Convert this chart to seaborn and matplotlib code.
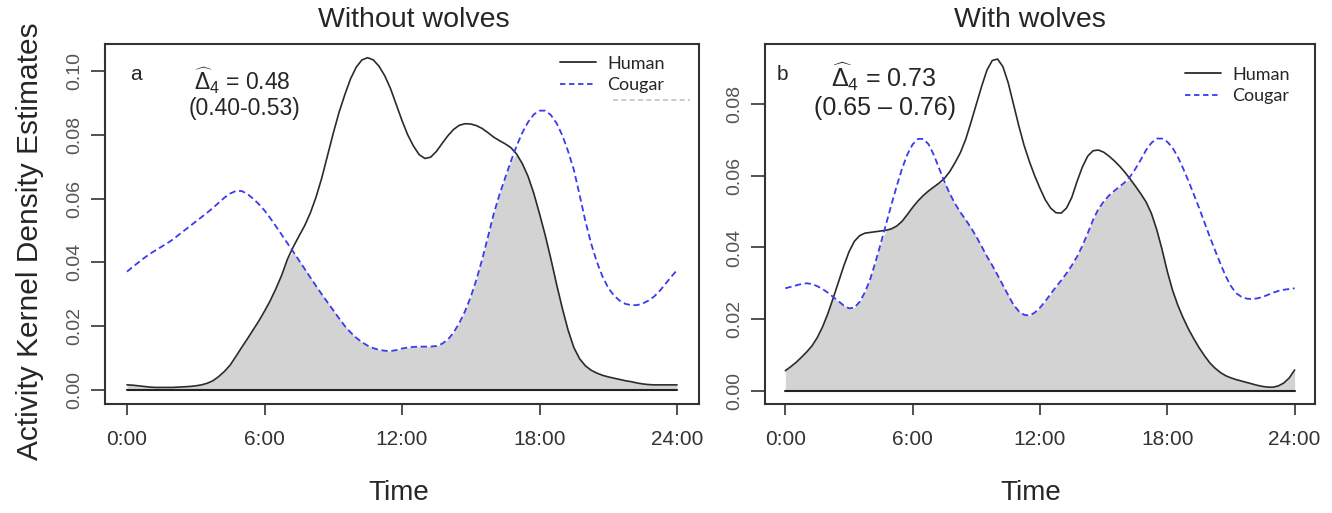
import numpy as np
import matplotlib
matplotlib.use("Agg")
import matplotlib.pyplot as plt
import seaborn as sns
from matplotlib.lines import Line2D

# ---------------- data ----------------
hours = np.arange(0, 24.001, 0.25)

human_without = [
    0.0016, 0.0015, 0.0013, 0.0011, 0.0009, 0.0008, 0.0008, 0.0008,
    0.0008, 0.0009, 0.0010, 0.0011, 0.0013, 0.0016, 0.0021, 0.0029,
    0.0042, 0.0058, 0.0078, 0.0105, 0.0133, 0.0160, 0.0188, 0.0216,
    0.0247, 0.0280, 0.0318, 0.0360, 0.0410, 0.0448, 0.0482, 0.0515,
    0.0555, 0.0605, 0.0665, 0.0735, 0.0805, 0.0870, 0.0925, 0.0975,
    0.1012, 0.1035, 0.1042, 0.1035, 0.1015, 0.0985, 0.0945, 0.0895,
    0.0845, 0.0800, 0.0765, 0.0738, 0.0726, 0.0730, 0.0748, 0.0773,
    0.0797, 0.0817, 0.0830, 0.0835, 0.0834, 0.0829, 0.0820, 0.0807,
    0.0793, 0.0782, 0.0772, 0.0760, 0.0740, 0.0710, 0.0670, 0.0617,
    0.0553, 0.0485, 0.0410, 0.0330, 0.0255, 0.0187, 0.0133, 0.0098,
    0.0076, 0.0062, 0.0053, 0.0046, 0.0041, 0.0037, 0.0033, 0.0029,
    0.0026, 0.0022, 0.0019, 0.0017, 0.0016, 0.0016, 0.0016, 0.0016,
    0.0016]
cougar_without = [
    0.0371, 0.0386, 0.0400, 0.0414, 0.0427, 0.0438, 0.0449, 0.0460,
    0.0472, 0.0486, 0.0500, 0.0514, 0.0528, 0.0542, 0.0556, 0.0571,
    0.0587, 0.0603, 0.0616, 0.0624, 0.0624, 0.0615, 0.0600, 0.0583,
    0.0563, 0.0539, 0.0513, 0.0487, 0.0460, 0.0434, 0.0407, 0.0380,
    0.0353, 0.0326, 0.0300, 0.0275, 0.0250, 0.0225, 0.0201, 0.0181,
    0.0164, 0.0150, 0.0139, 0.0131, 0.0126, 0.0123, 0.0122, 0.0125,
    0.0130, 0.0133, 0.0135, 0.0136, 0.0136, 0.0136, 0.0138, 0.0145,
    0.0158, 0.0180, 0.0210, 0.0247, 0.0292, 0.0347, 0.0410, 0.0480,
    0.0552, 0.0612, 0.0665, 0.0717, 0.0765, 0.0807, 0.0840, 0.0864,
    0.0876, 0.0876, 0.0862, 0.0836, 0.0798, 0.0748, 0.0690, 0.0612,
    0.0530, 0.0460, 0.0402, 0.0356, 0.0320, 0.0296, 0.0280, 0.0270,
    0.0266, 0.0266, 0.0271, 0.0280, 0.0293, 0.0311, 0.0333, 0.0355,
    0.0376]
human_with = [
    0.0056, 0.0067, 0.0079, 0.0093, 0.0108, 0.0125, 0.0148, 0.0178,
    0.0215, 0.0258, 0.0303, 0.0348, 0.0388, 0.0417, 0.0433, 0.0440,
    0.0442, 0.0444, 0.0446, 0.0448, 0.0452, 0.0460, 0.0473, 0.0492,
    0.0512, 0.0530, 0.0545, 0.0558, 0.0569, 0.0580, 0.0593, 0.0612,
    0.0637, 0.0665, 0.0702, 0.0750, 0.0800, 0.0850, 0.0895, 0.0922,
    0.0926, 0.0905, 0.0860, 0.0800, 0.0740, 0.0685, 0.0640, 0.0600,
    0.0565, 0.0533, 0.0510, 0.0497, 0.0496, 0.0510, 0.0540, 0.0585,
    0.0625, 0.0655, 0.0670, 0.0672, 0.0666, 0.0655, 0.0642, 0.0627,
    0.0610, 0.0591, 0.0571, 0.0550, 0.0527, 0.0495, 0.0450, 0.0395,
    0.0333, 0.0280, 0.0238, 0.0203, 0.0172, 0.0145, 0.0120, 0.0098,
    0.0078, 0.0063, 0.0051, 0.0042, 0.0036, 0.0031, 0.0027, 0.0023,
    0.0019, 0.0015, 0.0012, 0.0010, 0.0010, 0.0014, 0.0022, 0.0036,
    0.0058]
cougar_with = [
    0.0286, 0.0290, 0.0294, 0.0298, 0.0300, 0.0298, 0.0292, 0.0284,
    0.0274, 0.0262, 0.0250, 0.0238, 0.0230, 0.0232, 0.0248, 0.0275,
    0.0312, 0.0360, 0.0412, 0.0466, 0.0520, 0.0572, 0.0620, 0.0660,
    0.0688, 0.0703, 0.0703, 0.0688, 0.0658, 0.0620, 0.0583, 0.0550,
    0.0522, 0.0498, 0.0477, 0.0455, 0.0430, 0.0403, 0.0375, 0.0350,
    0.0323, 0.0295, 0.0267, 0.0240, 0.0222, 0.0212, 0.0210, 0.0218,
    0.0232, 0.0250, 0.0270, 0.0290, 0.0308, 0.0328, 0.0350, 0.0375,
    0.0405, 0.0440, 0.0477, 0.0507, 0.0528, 0.0545, 0.0558, 0.0570,
    0.0582, 0.0598, 0.0620, 0.0645, 0.0672, 0.0692, 0.0704, 0.0704,
    0.0695, 0.0678, 0.0652, 0.0620, 0.0585, 0.0548, 0.0510, 0.0470,
    0.0430, 0.0392, 0.0355, 0.0320, 0.0292, 0.0272, 0.0262, 0.0257,
    0.0256, 0.0258, 0.0262, 0.0268, 0.0274, 0.0279, 0.0282, 0.0284,
    0.0286]

x_ticks = [0, 6, 12, 18, 24]
x_ticklabels = ["0:00", "6:00", "12:00", "18:00", "24:00"]
y_ticks_left = [0.00, 0.02, 0.04, 0.06, 0.08, 0.10]
y_ticks_right = [0.00, 0.02, 0.04, 0.06, 0.08]
titles = ["Without wolves", "With wolves"]
panel_letters = ["a", "b"]
overlap_text = [r"$\widehat{\mathrm{\Delta}}_4$ = 0.48", r"$\widehat{\mathrm{\Delta}}_4$ = 0.73"]
ci_text = ["(0.40-0.53)", "(0.65 \u2013 0.76)"]

# ---------------- style ----------------
sns.set_style("ticks")
plt.rcParams["font.family"] = ["Liberation Sans", "DejaVu Sans"]
plt.rcParams["mathtext.fontset"] = "custom"
plt.rcParams["mathtext.rm"] = "Liberation Sans"
plt.rcParams["mathtext.it"] = "Liberation Sans:italic"

HUMAN_C = "#2b2b2b"
COUGAR_C = "#3a3aee"
FILL_C = "#d3d3d3"
TICK_C = "#555555"
LEG_FONT = ["Lato", "Liberation Sans", "DejaVu Sans"]

W, H = 1332, 513
fig = plt.figure(figsize=(W / 100, H / 100), dpi=100)

boxes = [(105, 44, 699, 404), (765, 44, 1315, 404)]
ylims = [(-0.0044, 0.1085), (-0.0037, 0.0968)]
yticks_all = [y_ticks_left, y_ticks_right]
data = [(human_without, cougar_without), (human_with, cougar_with)]
ann_fs = [16.5, 18]
ann_pos = [((136, 75), (242, 81), (244, 108)), ((782, 75), (884, 77), (885, 108))]
leg_anchor = [((551 - 105) / 594, 0.993), ((1176 - 765) / 550, 0.962)]
title_x = [414, 1030]
time_x = [399, 1031]

for i in range(2):
    l, t, r, b = boxes[i]
    ax = fig.add_axes([l / W, 1 - b / H, (r - l) / W, (b - t) / H])
    hum = np.array(data[i][0])
    cou = np.array(data[i][1])

    ax.fill_between(hours, 0, np.minimum(hum, cou), color=FILL_C, lw=0, zorder=1)
    ax.plot(hours, np.zeros_like(hours), color="#222222", lw=1.5, zorder=2)
    sns.lineplot(x=hours, y=hum, ax=ax, color=HUMAN_C, lw=1.2, zorder=3)
    sns.lineplot(x=hours, y=cou, ax=ax, color=COUGAR_C, lw=1.3, zorder=3,
                 linestyle=(0, (3.5, 2)))

    ax.set_xlim(-0.96, 24.96)
    ax.set_ylim(*ylims[i])
    ax.set_xticks(x_ticks)
    ax.set_xticklabels(x_ticklabels, fontsize=15, color="#333333")
    ax.set_yticks(yticks_all[i])
    ax.set_yticklabels([f"{v:.2f}" for v in yticks_all[i]], fontsize=14,
                       color=TICK_C, rotation=90, va="center")
    ax.tick_params(axis="x", length=8, width=1.2, color="#333333", pad=11)
    ax.tick_params(axis="y", length=10, width=1.2, color="#333333", pad=6)
    for sp in ax.spines.values():
        sp.set_visible(True)
        sp.set_color("#333333")
        sp.set_linewidth(1.5)
    ax.set_xlabel("")
    ax.set_ylabel("")

    # annotations
    (lx, ly), (dx, dy), (cx, cy) = ann_pos[i]
    fig.text(lx / W, 1 - ly / H, panel_letters[i], fontsize=15, ha="center", va="center")
    fig.text(dx / W, 1 - dy / H, overlap_text[i], fontsize=ann_fs[i], ha="center", va="center")
    fig.text(cx / W, 1 - cy / H, ci_text[i], fontsize=ann_fs[i], ha="center", va="center")

    # legend
    handles = [Line2D([], [], color=HUMAN_C, lw=1.3),
               Line2D([], [], color=COUGAR_C, lw=1.3, linestyle=(0, (3, 2)))]
    ax.legend(handles, ["Human", "Cougar"], loc="upper left",
              bbox_to_anchor=leg_anchor[i], frameon=False, borderpad=0,
              handlelength=2.0, handletextpad=0.6, labelspacing=0.3,
              prop={"family": LEG_FONT, "size": 13})

    if i == 0:
        # faint leftover legend line seen in the reference
        ax.plot([0.855, 0.985], [0.844, 0.844], transform=ax.transAxes,
                color="#c4c4c4", lw=1.2, linestyle=(0, (3, 2)), zorder=0)

    fig.text(title_x[i] / W, 1 - 20 / H, titles[i], fontsize=20.5, ha="center", va="center")
    fig.text(time_x[i] / W, 1 - 493 / H, "Time", fontsize=20, ha="center", va="center")

fig.text(30 / W, 1 - 241 / H, "Activity Kernel Density Estimates", fontsize=21.5,
         rotation=90, ha="center", va="center")

fig.savefig("out.png", dpi=100)
